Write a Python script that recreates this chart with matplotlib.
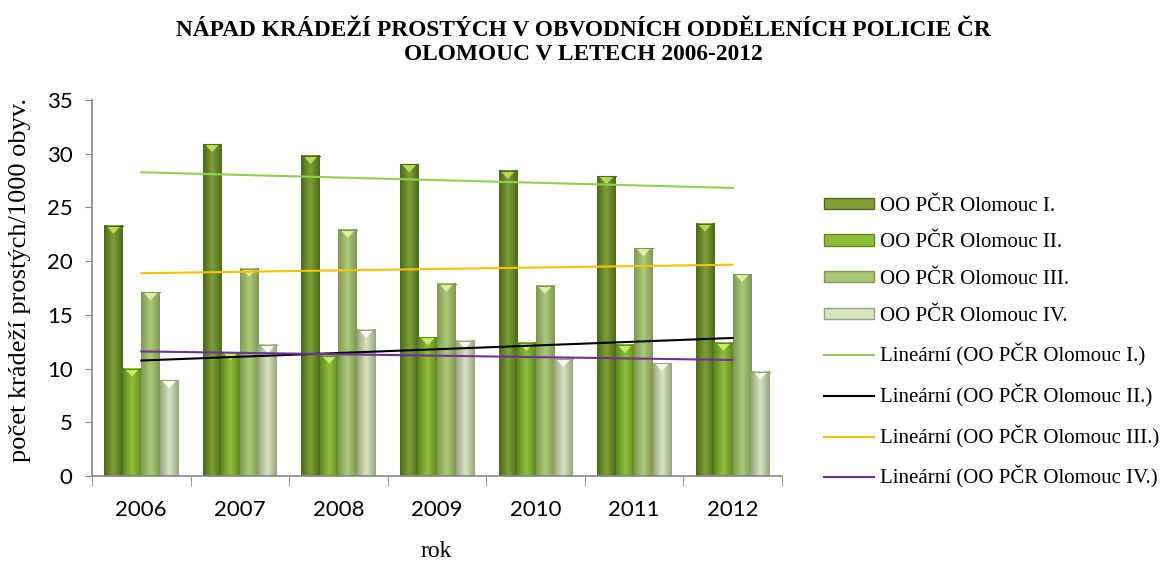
import matplotlib
matplotlib.use("Agg")
from matplotlib import pyplot as plt
from matplotlib.colors import LinearSegmentedColormap
from matplotlib.patches import Patch, Polygon
from matplotlib.lines import Line2D
import numpy as np

years = ['2006', '2007', '2008', '2009', '2010', '2011', '2012']
olomouc_1 = [23.3, 30.9, 29.8, 29.0, 28.4, 27.9, 23.5]
olomouc_2 = [10.0, 11.5, 11.2, 12.9, 12.4, 12.2, 12.4]
olomouc_3 = [17.1, 19.3, 22.9, 17.9, 17.7, 21.2, 18.8]
olomouc_4 = [8.9, 12.2, 13.6, 12.6, 10.9, 10.5, 9.7]
names = ['OO PČR Olomouc I.', 'OO PČR Olomouc II.', 'OO PČR Olomouc III.', 'OO PČR Olomouc IV.']

# bar shading: edge, centre, top triangle
bar_cols = [('#4b6a1c', '#7e9f34', '#b8dc5a'),
            ('#5f8a1e', '#8fbc3a', '#c8ec6a'),
            ('#7f9a50', '#aac878', '#dcefa8'),
            ('#98a67e', '#d6e2c0', '#f6faee')]
trend_cols = ['#92d050', '#000000', '#ffc000', '#7030a0']

series = [olomouc_1, olomouc_2, olomouc_3, olomouc_4]

fig = plt.figure(figsize=(11.66, 5.61), dpi=100)
ax = fig.add_axes([92 / 1166, 1 - 476 / 561, 690 / 1166, 376 / 561])

x = np.arange(len(years))
w = 0.188
grad = np.concatenate([np.linspace(0, 1, 20), np.linspace(1, 0, 20)]).reshape(1, -1)

for i, vals in enumerate(series):
    edge, mid, top = bar_cols[i]
    cmap = LinearSegmentedColormap.from_list('c%d' % i, [edge, mid])
    for xi, v in zip(x, vals):
        x0 = xi + (i - 2) * w
        ax.imshow(grad, cmap=cmap, extent=(x0, x0 + w, 0, v), aspect='auto',
                  interpolation='bicubic', zorder=2)
        ax.add_patch(Polygon([(x0 + 0.02, v), (x0 + w - 0.02, v), (x0 + w / 2, v - 0.75)],
                             closed=True, color=top, zorder=3, lw=0))
        ax.plot([x0, x0 + w], [v, v], color=edge, lw=0.8, zorder=3)

# linear trendlines
for i, vals in enumerate(series):
    k, q = np.polyfit(x, vals, 1)
    ax.plot([x[0], x[-1]], [k * x[0] + q, k * x[-1] + q], color=trend_cols[i], lw=1.5, zorder=4)

ax.set_xlim(-0.5, len(years) - 0.5)
ax.set_ylim(0, 35)
ax.set_yticks(range(0, 36, 5))
ax.set_xticks(x)
ax.set_xticks(np.arange(-0.5, len(years)), minor=True)
ax.set_xticklabels(years)
ax.tick_params(axis='x', which='major', length=0, pad=17)
ax.tick_params(axis='x', which='minor', length=7, color='#868686', direction='out')
ax.tick_params(axis='y', length=5, color='#868686', direction='out', pad=9)
for lab in ax.get_xticklabels() + ax.get_yticklabels():
    lab.set_fontfamily('Lato')
    lab.set_fontsize(16)
for s in ['top', 'right']:
    ax.spines[s].set_visible(False)
for s in ['left', 'bottom']:
    ax.spines[s].set_color('#868686')
    ax.spines[s].set_linewidth(1.2)

fig.text(20 / 1166, 1 - 280 / 561, 'počet krádeží prostých/1000 obyv.', rotation=90,
         ha='center', va='center', fontfamily='Liberation Serif', fontsize=19)
fig.text(436 / 1166, 1 - 557 / 561, 'rok', ha='center', va='baseline',
         fontfamily='Liberation Serif', fontsize=17)

fig.suptitle('NÁPAD KRÁDEŽÍ PROSTÝCH V OBVODNÍCH ODDĚLENÍCH POLICIE ČR\nOLOMOUC V LETECH 2006-2012',
             fontfamily='Liberation Serif', fontweight='bold', fontsize=16.8, y=0.965, x=0.5,
             linespacing=1.2)

handles = [Patch(facecolor=bar_cols[i][1], edgecolor=bar_cols[i][0], lw=1) for i in range(4)]
handles += [Line2D([], [], color=trend_cols[i], lw=1.5) for i in range(4)]
labels = names + ['Lineární (%s)' % n for n in names]
fig.legend(handles, labels, loc='upper left', bbox_to_anchor=(805 / 1166, 1 - 178 / 561),
           frameon=False, prop={'family': 'Liberation Serif', 'size': 15},
           handlelength=2.4, handleheight=0.45, handletextpad=0.3, labelspacing=0.85)

fig.savefig('out.png', dpi=100)
